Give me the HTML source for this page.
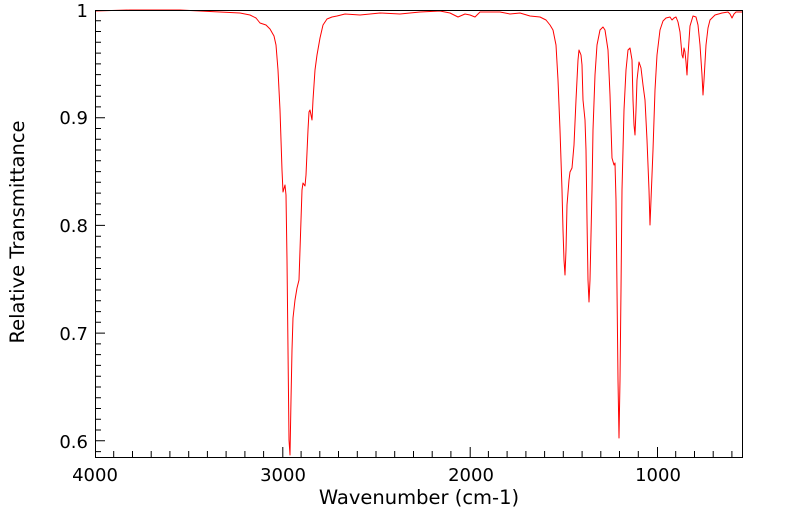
<!DOCTYPE html>
<html><head><style>
body{margin:0;background:#fff;width:799px;height:516px;overflow:hidden}
svg{display:block}
text{font-family:"DejaVu Sans","Liberation Sans",sans-serif;fill:#000}
</style></head><body>
<svg width="799" height="516" viewBox="0 0 799 516">
<polyline fill="none" stroke="#f00" stroke-width="1" stroke-linejoin="round" points="95,11 130,10 180,10 220,12 240,13 250,15 256,18 260,23 266,25 270,29 274,36 276,45 278,70 280,110 282,170 283,192 285,185 286,195 287,260 288,350 289,440 290,455 291,400 292,350 293,318 295,300 297,288 299,280 300,250 302,190 303,183 305,186 306,175 308,130 309,112 310,110 311,115 312,120 313,100 315,70 317,55 320,38 323,25 327,19 332,17 337,16 345,14 360,15 380,13 400,14 420,12 440,11 450,13 458,17 465,14 470,15 475,17 480,12 500,12 510,14 520,13 530,16 540,17 546,20 550,25 553,30 556,45 558,80 560,130 562,190 563,230 564,260 565,275 566,250 567,205 569,180 570,172 572,168 574,145 576,100 578,60 579,50 581,55 582,65 583,100 585,120 586,150 587,220 588,280 589,302 590,280 591,235 592,190 593,130 595,75 597,45 600,30 603,27 605,30 608,50 610,95 612,158 614,165 615,163 616,200 617,290 618,380 619,438 620,380 621,290 622,190 624,110 626,70 628,50 630,48 632,60 633,100 634,125 635,135 636,110 637,80 639,62 641,68 643,85 645,100 647,140 649,190 650,225 651,200 653,150 655,90 657,55 660,30 663,21 666,18 670,17 672,20 674,18 676,17 678,22 680,32 682,55 683,58 684,48 685,52 686,62 687,75 688,55 690,26 693,16 696,17 698,25 700,45 702,75 703,95 704,80 706,45 708,28 710,20 715,15 722,13 728,12 730,14 732,18 734,14 736,12 742,12"/>
<rect x="95.5" y="10.5" width="647" height="447" fill="none" stroke="#000" stroke-width="1"/>
<path stroke="#000" stroke-width="1" fill="none" d="
M95.5,457v-10 M113.7,457v-6 M132.5,457v-6 M151.2,457v-6 M169.9,457v-6 M188.7,457v-6 M207.4,457v-6 M226.1,457v-6 M244.9,457v-6 M263.6,457v-6
M282.8,457v-10 M301.1,457v-6 M319.8,457v-6 M338.5,457v-6 M357.3,457v-6 M376,457v-6 M394.7,457v-6 M413.5,457v-6 M432.2,457v-6 M450.9,457v-6
M470.2,457v-10 M488.4,457v-6 M507.1,457v-6 M525.9,457v-6 M544.6,457v-6 M563.3,457v-6 M582.1,457v-6 M600.8,457v-6 M619.5,457v-6 M638.3,457v-6
M657.5,457v-10 M675.7,457v-6 M694.5,457v-6 M713.2,457v-6 M731.9,457v-6
M95,10.5h10 M95,20.8h6 M95,31.5h6 M95,42.3h6 M95,53.1h6 M95,63.9h6 M95,74.6h6 M95,85.4h6 M95,96.2h6 M95,106.9h6
M95,117.7h10 M95,128.5h6 M95,139.2h6 M95,150h6 M95,160.8h6 M95,171.6h6 M95,182.3h6 M95,193.1h6 M95,203.9h6 M95,214.6h6
M95,225.4h10 M95,236.2h6 M95,246.9h6 M95,257.7h6 M95,268.5h6 M95,279.3h6 M95,290h6 M95,300.8h6 M95,311.6h6 M95,322.3h6
M95,333.1h10 M95,343.9h6 M95,354.6h6 M95,365.4h6 M95,376.2h6 M95,387h6 M95,397.7h6 M95,408.5h6 M95,419.3h6 M95,430h6
M95,440.8h10 M95,451.6h6"/>
<g font-size="18" text-anchor="middle">
<text x="95" y="481">4000</text>
<text x="283" y="481">3000</text>
<text x="471" y="481">2000</text>
<text x="658" y="481">1000</text>
</g>
<text font-size="19.5" text-anchor="middle" x="419" y="504">Wavenumber (cm-1)</text>
<g font-size="18" text-anchor="end">
<text x="88" y="17">1</text>
<text x="88" y="124">0.9</text>
<text x="88" y="232">0.8</text>
<text x="88" y="340">0.7</text>
<text x="88" y="448">0.6</text>
</g>
<text font-size="19.5" text-anchor="middle" transform="translate(24,232) rotate(-90)">Relative Transmittance</text>
</svg>
</body></html>
